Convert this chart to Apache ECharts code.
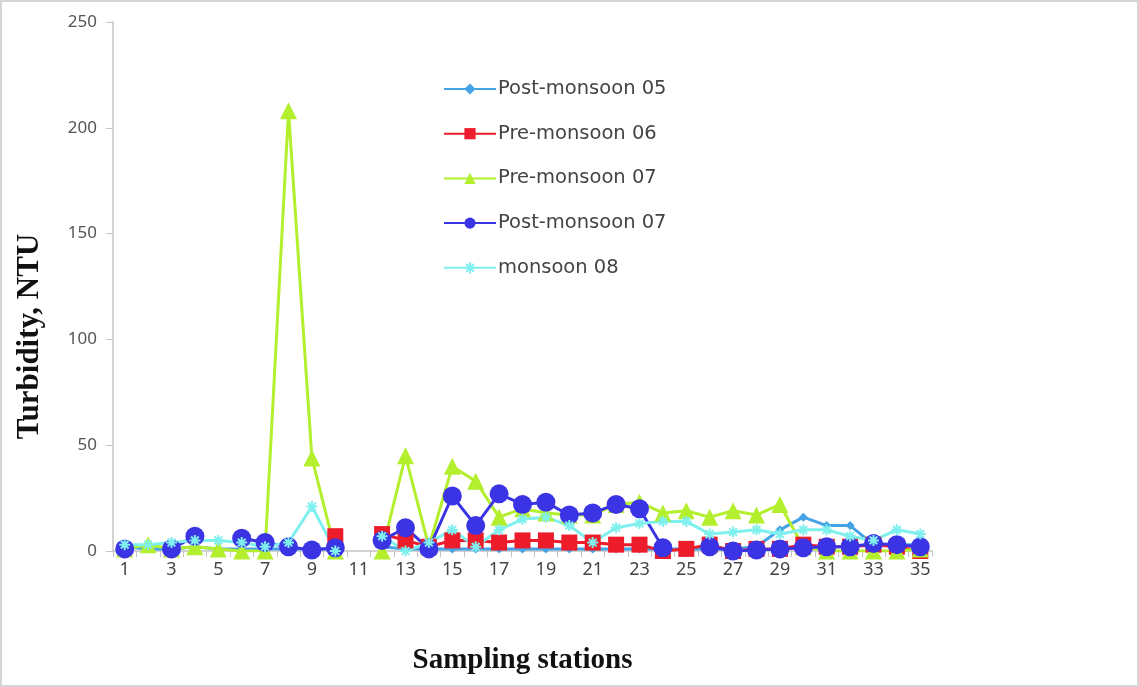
<!DOCTYPE html>
<html>
<head>
<meta charset="utf-8">
<title>Turbidity</title>
<script src="https://cdn.jsdelivr.net/npm/echarts@6/dist/echarts.min.js"></script>
<style>
  html, body { margin: 0; padding: 0; background: #fff; }
  #chart { width: 1139px; height: 687px; box-sizing: border-box; border: 2px solid #d6d6d6; }
</style>
</head>
<body>
<div id="chart"></div>
<script>
// sampling stations
const stations = ['1','2','3','4','5','6','7','8','9','10','11','12','13','14','15','16','17','18',
  '19','20','21','22','23','24','25','26','27','28','29','30','31','32','33','34','35']

// turbidity, NTU (station 11 not sampled)
const postMonsoon05 = [2, 1, 1, 2, 1, 1, 1, 1, 1, 1, null, 2, 1, 1, 1, 1, 1, 1,
  1, 1, 1, 1, 1, 1, 1, 1, 1, 2, 10, 16, 12, 12, 3, 3, 3]
const preMonsoon06 = [null, null, null, null, null, null, null, null, null, 7, null, 8, 5, 2, 5, 5, 4, 5,
  5, 4, 4, 3, 3, 0, 1, 3, 0, 1, 1, 3, 2, 2, 3, 2, 0]
const preMonsoon07 = [1, 3, 1, 2, 1, 0, 0, 208, 44, 0, null, 0, 45, 2, 40, 33, 16, 20,
  18, 17, 17, 22, 23, 18, 19, 16, 19, 17, 22, 2, 0, 0, 0, 0, 1]
const postMonsoon07 = [1, null, 1, 7, null, 6, 4, 2, 0.5, 1.5, null, 5, 11, 1, 26, 12, 27, 22,
  23, 17, 18, 22, 20, 1.5, null, 2, 0, 0.5, 1, 1.5, 2, 2, 3.5, 3, 2]
const monsoon08 = [3, 3, 4, 5, 5, 4, 2, 4, 21, 0, null, 7, 0, 4, 10, 2, 10, 15,
  16, 12, 4, 11, 13, 14, 14, 8, 9, 10, 8, 10, 10, 7, 5, 10, 8]

const yTicks = { min: 0, max: 250, interval: 50 }

const asterisk = 'path://M0,5L10,5M5,0L5,10M1.5,1.5L8.5,8.5M8.5,1.5L1.5,8.5'

function lineSeries(name, data, color, symbol, size) {
  return {
    name: name,
    type: 'line',
    data: data,
    symbol: symbol,
    symbolSize: size,
    showAllSymbol: true,
    connectNulls: false,
    lineStyle: { color: color, width: 3 },
    itemStyle: { color: color, borderColor: color, borderWidth: symbol === asterisk ? 2 : 0 },
    emphasis: { disabled: true },
    animation: false
  }
}

const chart = echarts.init(document.getElementById('chart'))
chart.setOption({
  backgroundColor: '#fff',
  textStyle: { fontFamily: 'Noto Sans' },
  grid: { left: 111, right: 205, top: 20, bottom: 134 },
  legend: {
    orient: 'vertical',
    left: 436,
    top: 72,
    itemWidth: 52,
    itemHeight: 14,
    itemGap: 24.7,
    textStyle: { fontSize: 19.5, color: '#444', fontFamily: 'DejaVu Sans', padding: [0, 0, 0, -3] },
    data: ['Post-monsoon 05', 'Pre-monsoon 06', 'Pre-monsoon 07', 'Post-monsoon 07', 'monsoon 08']
  },
  xAxis: {
    type: 'category',
    data: stations,
    boundaryGap: true,
    name: 'Sampling stations',
    nameLocation: 'middle',
    nameGap: 95,
    nameTextStyle: { fontFamily: 'Liberation Serif', fontWeight: 'bold', fontSize: 29, color: '#111' },
    axisLine: { lineStyle: { color: '#c4c4c4', width: 1.5 } },
    axisTick: { show: true, interval: 0, length: 6, lineStyle: { color: '#c4c4c4' } },
    axisLabel: { interval: 1, fontSize: 18, color: '#444', margin: 10 }
  },
  yAxis: {
    type: 'value',
    min: yTicks.min,
    max: yTicks.max,
    interval: yTicks.interval,
    name: 'Turbidity, NTU',
    nameLocation: 'middle',
    nameGap: 68,
    nameTextStyle: { fontFamily: 'Liberation Serif', fontWeight: 'bold', fontSize: 31, color: '#111', padding: [0, 100, 0, 0] },
    splitLine: { show: false },
    axisLine: { show: true, lineStyle: { color: '#c4c4c4', width: 1.5 } },
    axisTick: { show: true, length: 7, lineStyle: { color: '#c4c4c4' } },
    axisLabel: { fontSize: 17, color: '#555', margin: 16 }
  },
  series: [
    lineSeries('Post-monsoon 05', postMonsoon05, '#45a3e5', 'diamond', 9),
    lineSeries('Pre-monsoon 06', preMonsoon06, '#ec1c2a', 'rect', 16),
    lineSeries('Pre-monsoon 07', preMonsoon07, '#b3ef2c', 'triangle', 17),
    lineSeries('Post-monsoon 07', postMonsoon07, '#3b34e4', 'circle', 19),
    lineSeries('monsoon 08', monsoon08, '#7ff0ee', asterisk, 11)
  ]
})
</script>
</body>
</html>
